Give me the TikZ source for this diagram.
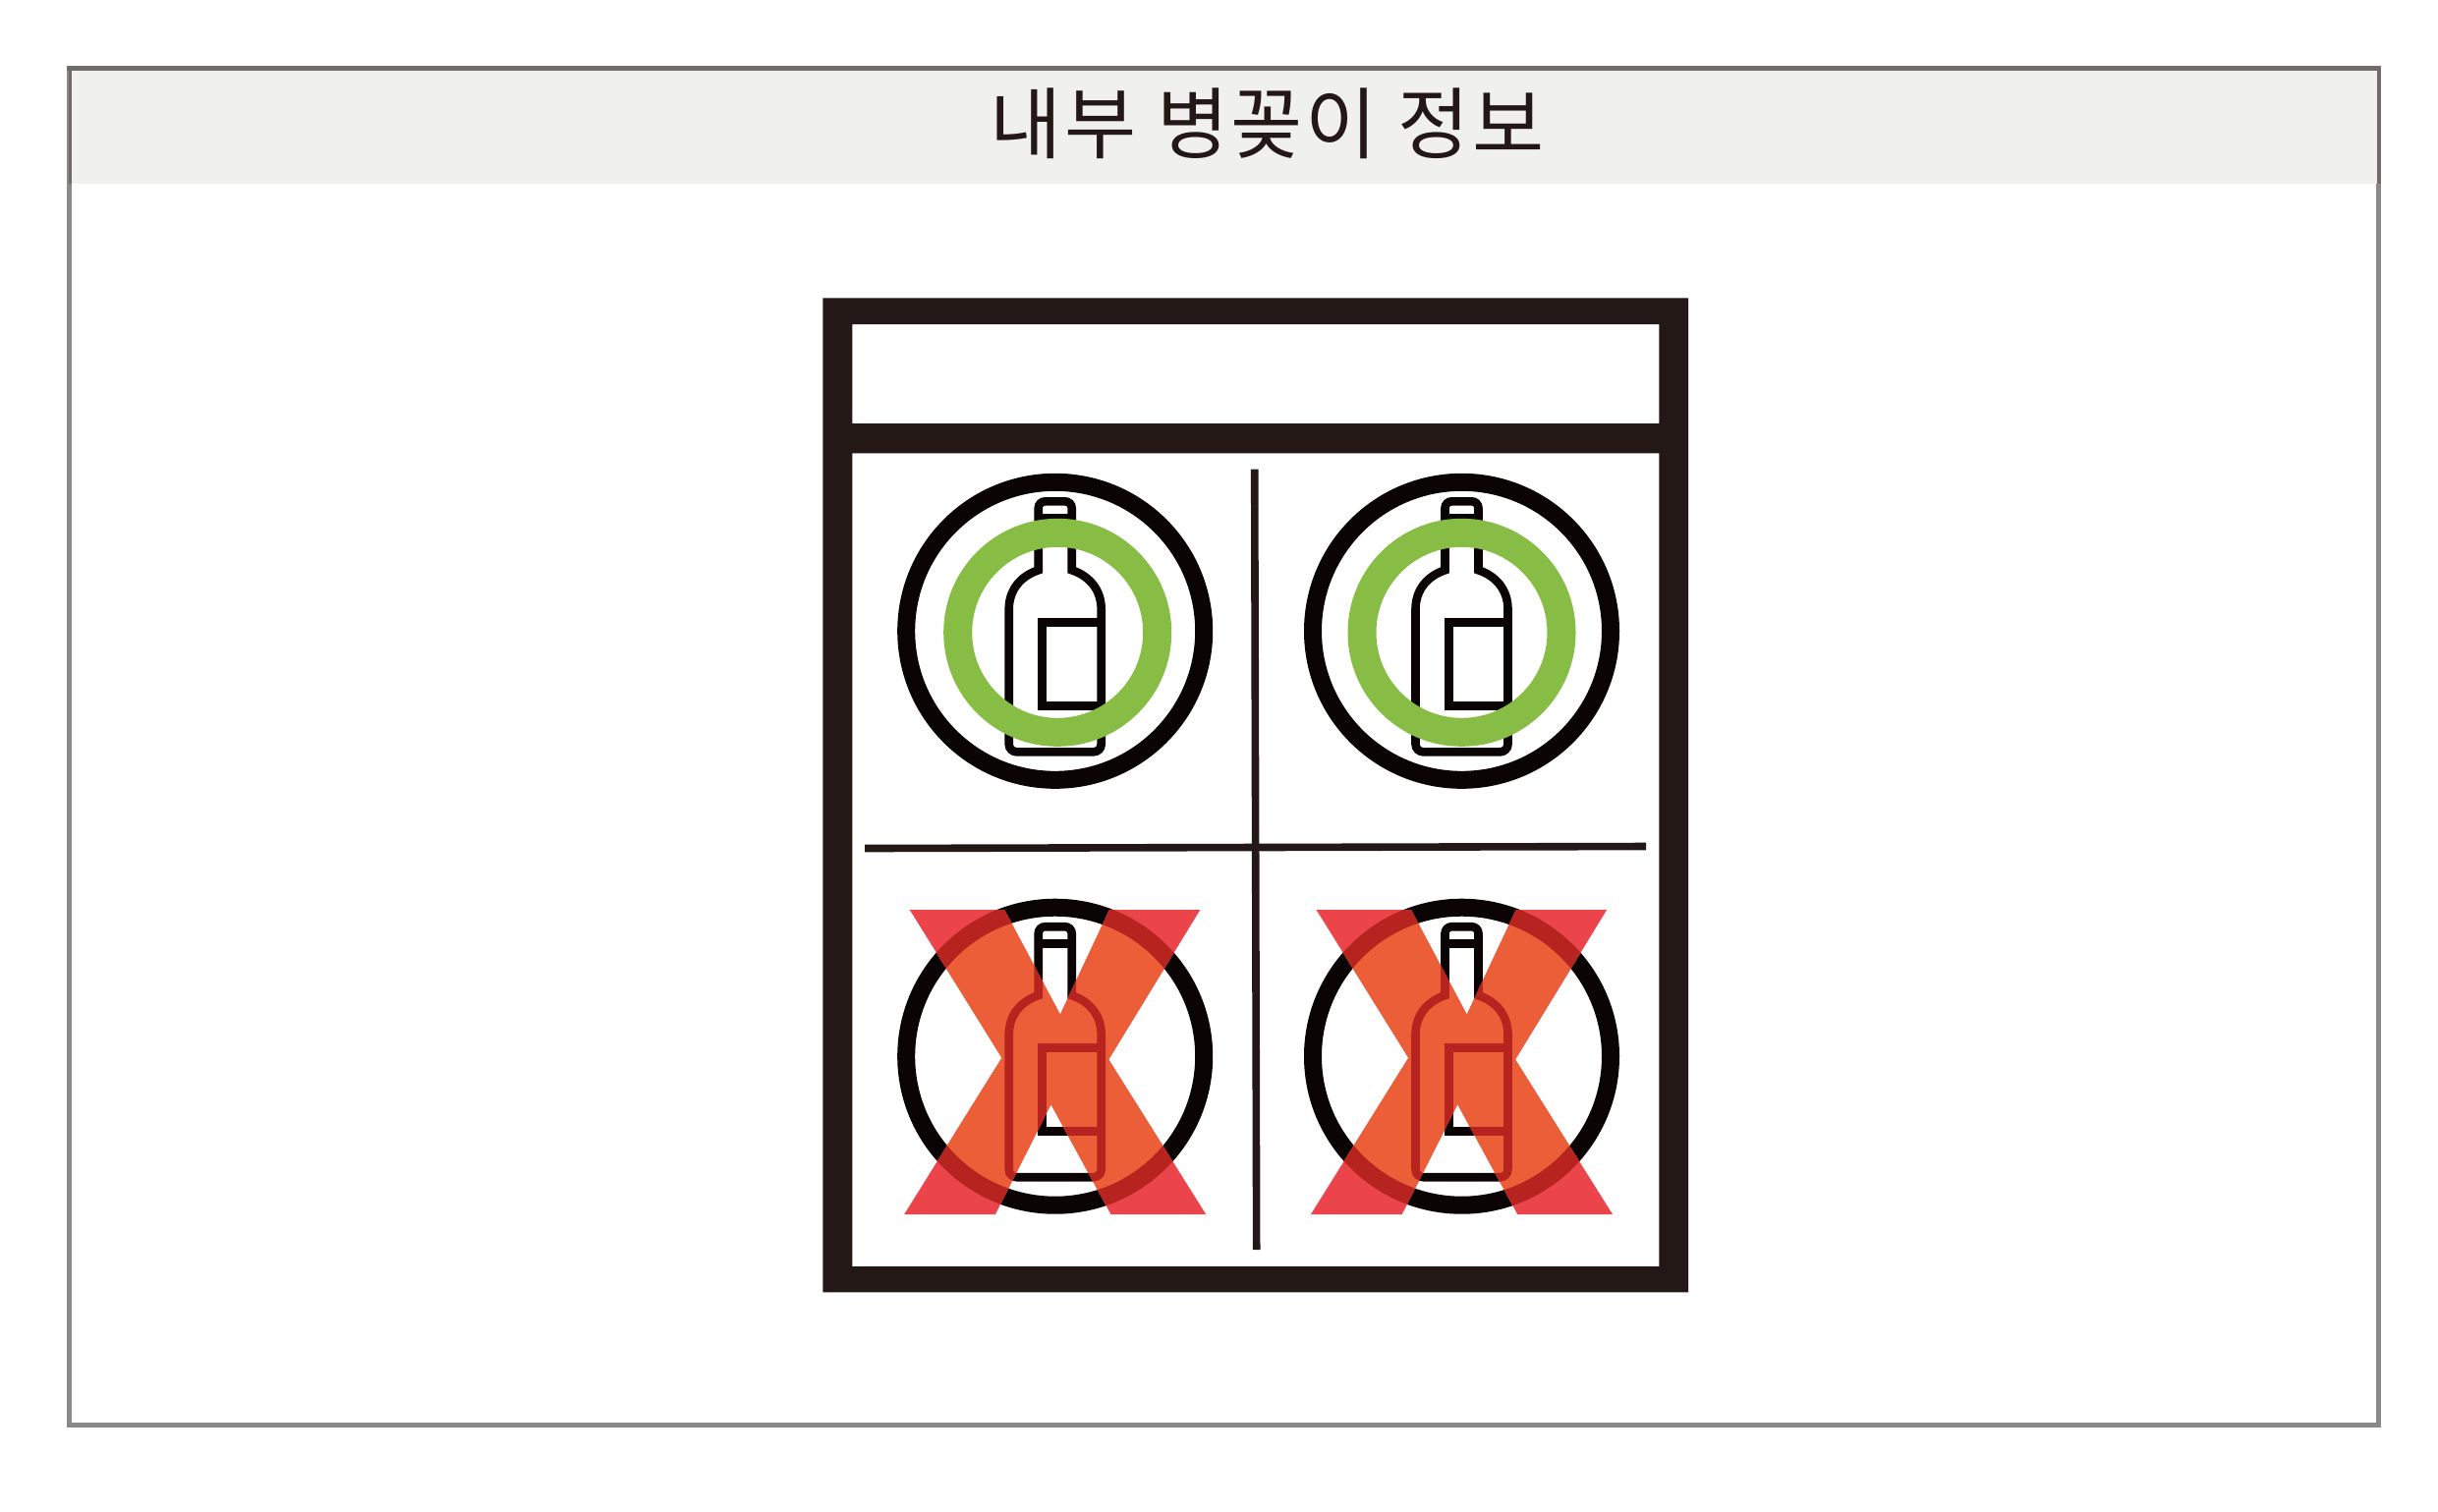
\documentclass[tikz,border=0pt]{standalone}
\usepackage{fontspec}
\newfontfamily\krfont[LetterSpace=3.5]{Noto Sans CJK KR}
\definecolor{cabinetdark}{HTML}{231815}
\definecolor{inkblack}{HTML}{0A0404}
\definecolor{okgreen}{HTML}{88BD45}
\definecolor{xred}{HTML}{EC444B}
\definecolor{xorange}{HTML}{EB5E38}
\definecolor{xdark}{HTML}{B7241F}
\definecolor{framegray}{HTML}{898989}
\definecolor{framedark}{HTML}{716C69}
\definecolor{headerfill}{HTML}{F0F0EE}
\newcommand{\BottleShape}[1]{%
  \draw[bottleline,#1] (-47,0) -- (-47,-22)
    .. controls (-47,-42) and (-35,-56) .. (-17,-62)
    -- (-17,-125) .. controls (-17,-129) and (-14,-132) .. (-10,-132)
    -- (10,-132) .. controls (14,-132) and (17,-129) .. (17,-125)
    -- (17,-62) .. controls (35,-56) and (47,-42) .. (47,-22)
    -- (47,115) .. controls (47,120) and (43,123) .. (39,123)
    -- (-39,123) .. controls (-43,123) and (-47,120) .. (-47,115) -- cycle;
  \draw[bottleline,#1] (-17,-115) -- (17,-115);
  \draw[bottleline,#1] (47,-9) -- (-13,-9) -- (-13,76) -- (47,76);
}
\newcommand{\XShape}{(-147.8,-149) -- (-51.5,-149) -- (5.2,-42.5) -- (55.2,-149) -- (147.5,-149) -- (54.5,3.2) -- (153.5,160.8) -- (56.8,160.8) -- (-4.2,48.8) -- (-60.8,160.8) -- (-153.5,160.8) -- (-54.2,1.5) -- cycle}
\newcommand{\AllowedBottle}[2]{%
  \begin{scope}[shift={(#1,#2)}]
    \draw[ringline] (0,0) circle (151.5);
    \BottleShape{inkblack}
    \draw[greenring] (\GreenDx,1.5) circle (101.5);
  \end{scope}}
\newcommand{\BannedBottle}[2]{%
  \begin{scope}[shift={(#1,#2)}]
    \draw[ringline] (0,0) circle (151.5);
    \BottleShape{inkblack}
    \fill[xred] \XShape;
    \begin{scope}
      \clip \XShape;
      \fill[xorange] (0,0) circle (160.5);
      \draw[ringline,xdark] (0,0) circle (151.5);
      \BottleShape{xdark}
    \end{scope}
  \end{scope}}
\tikzset{
  ringline/.style={draw=inkblack,line width=0.18cm},
  greenring/.style={draw=okgreen,line width=0.29cm},
  bottleline/.style={line width=0.086cm,line join=miter},
  divider/.style={draw=cabinetdark,line width=0.076cm},
  wall/.style={fill=cabinetdark},
}
\begin{document}
\begin{tikzpicture}[x=0.01cm,y=-0.01cm]
  \useasboundingbox (0,0) rectangle (2481,1538);
  \fill[white] (0,0) rectangle (2481,1538);
  % outer frame and header
  \draw[framegray,line width=0.05cm] (70.5,69.8) rectangle (2420.8,1450.5);
  \fill[headerfill] (73,72) rectangle (2419,186.7);
  \fill[framedark] (68,67.3) rectangle (2423.3,72);
  \fill[framedark] (70,67.3) rectangle (73,186.7);
  \fill[framedark] (2419,67.3) rectangle (2423.3,186.7);
  \node[text=cabinetdark,font=\krfont\fontsize{22.6pt}{26pt}\selectfont,inner sep=0pt] (title) at (1289.5,125.5) {내부 병꽂이 정보};
  % cabinet
  \fill[wall,even odd rule] (837.3,303.3) rectangle (1718,1315.3)
    (867.3,330) rectangle (1688.3,431)
    (867.3,461.3) rectangle (1688.3,1289);
  \draw[divider] (1276.7,477.7) -- (1278.7,1272);
  \draw[divider] (880,863.5) -- (1675,861.5);
  % bottles
  \def\GreenDx{2.5}
  \AllowedBottle{1073.7}{642.3}
  \def\GreenDx{0}
  \AllowedBottle{1487.5}{642.3}
  \BannedBottle{1073.7}{1075.2}
  \BannedBottle{1487.5}{1075.2}
\end{tikzpicture}
\end{document}
